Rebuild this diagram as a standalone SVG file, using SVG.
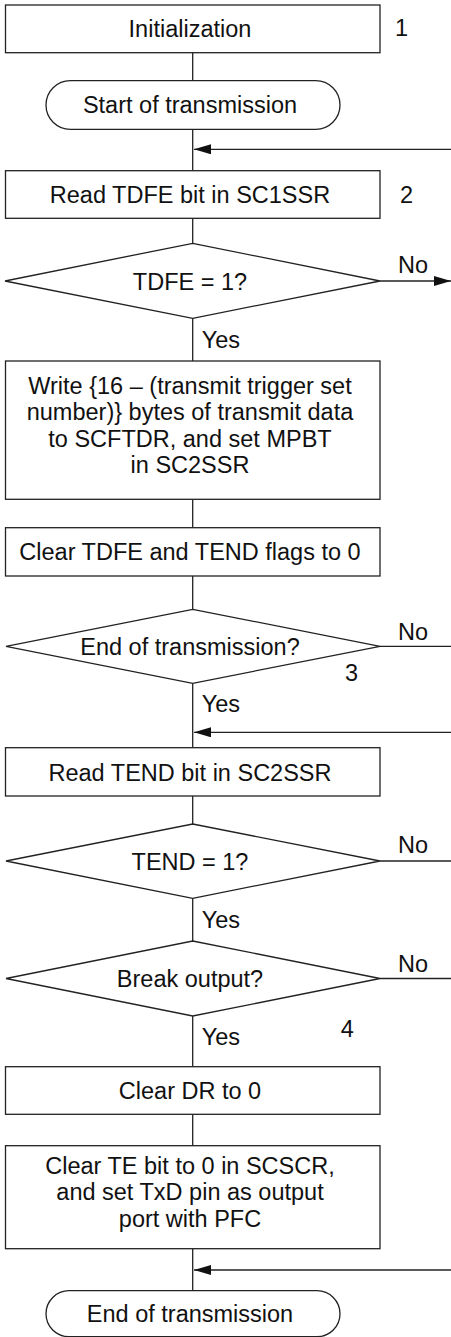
<svg xmlns="http://www.w3.org/2000/svg" width="451" height="1337" viewBox="0 0 451 1337">
<defs>
<marker id="arr" markerUnits="userSpaceOnUse" markerWidth="17" markerHeight="10" refX="17" refY="5" orient="auto">
<path d="M0,0 L17,5 L0,10 z" fill="#111"/>
</marker>
<style>
.shape{fill:#fff;stroke:#222;stroke-width:1.3}
.conn{fill:none;stroke:#222;stroke-width:1.3}
.t{font-family:"Liberation Sans",Arial,sans-serif;font-size:23.5px;fill:#111;text-anchor:middle}
.l{font-family:"Liberation Sans",Arial,sans-serif;font-size:23.5px;fill:#111}
</style>
</defs>
<rect width="451" height="1337" fill="#fff"/>
<g id="connectors">
<line class="conn" x1="192.7" y1="52.7" x2="192.7" y2="80.7"/>
<line class="conn" x1="192.7" y1="129.3" x2="192.7" y2="170.7"/>
<line class="conn" x1="451" y1="149.3" x2="194" y2="149.3" marker-end="url(#arr)"/>
<line class="conn" x1="192.7" y1="218.3" x2="192.7" y2="243.3"/>
<line class="conn" x1="380" y1="281" x2="451" y2="281" marker-end="url(#arr)"/>
<line class="conn" x1="192.7" y1="318.3" x2="192.7" y2="361"/>
<line class="conn" x1="192.7" y1="499.3" x2="192.7" y2="527.7"/>
<line class="conn" x1="192.7" y1="576" x2="192.7" y2="609.3"/>
<line class="conn" x1="380" y1="646.3" x2="451" y2="646.3"/>
<line class="conn" x1="192.7" y1="683.3" x2="192.7" y2="747.7"/>
<line class="conn" x1="451" y1="732.3" x2="194" y2="732.3" marker-end="url(#arr)"/>
<line class="conn" x1="192.7" y1="796" x2="192.7" y2="824"/>
<line class="conn" x1="380" y1="861" x2="451" y2="861"/>
<line class="conn" x1="192.7" y1="898.3" x2="192.7" y2="941"/>
<line class="conn" x1="380" y1="978.5" x2="451" y2="978.5"/>
<line class="conn" x1="192.7" y1="1016" x2="192.7" y2="1066.7"/>
<line class="conn" x1="192.7" y1="1114.3" x2="192.7" y2="1145.7"/>
<line class="conn" x1="192.7" y1="1248.7" x2="192.7" y2="1290.7"/>
<line class="conn" x1="451" y1="1270" x2="194" y2="1270" marker-end="url(#arr)"/>
<text class="l" x="398" y="273.3">No</text>
<text class="l" x="201.7" y="348.3">Yes</text>
<text class="l" x="398" y="640">No</text>
<text class="l" x="201.7" y="711.7">Yes</text>
<text class="l" x="398" y="853">No</text>
<text class="l" x="201.7" y="927.7">Yes</text>
<text class="l" x="398" y="971.7">No</text>
<text class="l" x="201.7" y="1045">Yes</text>
</g>
<g id="n-init">
<rect class="shape" x="5.5" y="5" width="374.5" height="47.7"/>
<text class="t" x="190" y="37">Initialization</text>
<text class="l" x="395" y="36">1</text>
</g>
<g id="n-start">
<rect class="shape" x="46" y="80.7" width="294" height="48.6" rx="24.3" ry="24.3"/>
<text class="t" x="190" y="113">Start of transmission</text>
</g>
<g id="n-readtdfe">
<rect class="shape" x="5.5" y="170.7" width="374.5" height="47.6"/>
<text class="t" x="190" y="203">Read TDFE bit in SC1SSR</text>
<text class="l" x="400" y="203.3">2</text>
</g>
<g id="n-tdfe">
<polygon class="shape" points="192.7,243.3 380,281 192.7,318.3 5,281"/>
<text class="t" x="190" y="290">TDFE = 1?</text>
</g>
<g id="n-write">
<rect class="shape" x="5.5" y="361" width="374.5" height="138.3"/>
<text class="t" x="190" y="393.5">Write {16 – (transmit trigger set</text>
<text class="t" x="190" y="420">number)} bytes of transmit data</text>
<text class="t" x="190" y="446.5">to SCFTDR, and set MPBT</text>
<text class="t" x="190" y="473">in SC2SSR</text>
</g>
<g id="n-clear">
<rect class="shape" x="5.5" y="527.7" width="374.5" height="48.3"/>
<text class="t" x="190" y="560">Clear TDFE and TEND flags to 0</text>
</g>
<g id="n-endq">
<polygon class="shape" points="192.7,609.3 380,646.3 192.7,683.3 6,646.3"/>
<text class="t" x="190" y="655">End of transmission?</text>
<text class="l" x="345" y="681">3</text>
</g>
<g id="n-readtend">
<rect class="shape" x="5.5" y="747.7" width="374.5" height="48.3"/>
<text class="t" x="190" y="781">Read TEND bit in SC2SSR</text>
</g>
<g id="n-tend">
<polygon class="shape" points="192.7,824 380,861 192.7,898.3 6,861"/>
<text class="t" x="190" y="869.5">TEND = 1?</text>
</g>
<g id="n-break">
<polygon class="shape" points="192.7,941 380,978.5 192.7,1016 6,978.5"/>
<text class="t" x="190" y="986.5">Break output?</text>
<text class="l" x="340.7" y="1036.7">4</text>
</g>
<g id="n-cleardr">
<rect class="shape" x="5.5" y="1066.7" width="374.5" height="47.6"/>
<text class="t" x="190" y="1099">Clear DR to 0</text>
</g>
<g id="n-clearte">
<rect class="shape" x="5.5" y="1145.7" width="374.5" height="103"/>
<text class="t" x="190" y="1173.5">Clear TE bit to 0 in SCSCR,</text>
<text class="t" x="190" y="1200">and set TxD pin as output</text>
<text class="t" x="190" y="1226.5">port with PFC</text>
</g>
<g id="n-end">
<rect class="shape" x="46" y="1290.7" width="294" height="46" rx="23" ry="23"/>
<text class="t" x="190" y="1322">End of transmission</text>
</g>
</svg>
